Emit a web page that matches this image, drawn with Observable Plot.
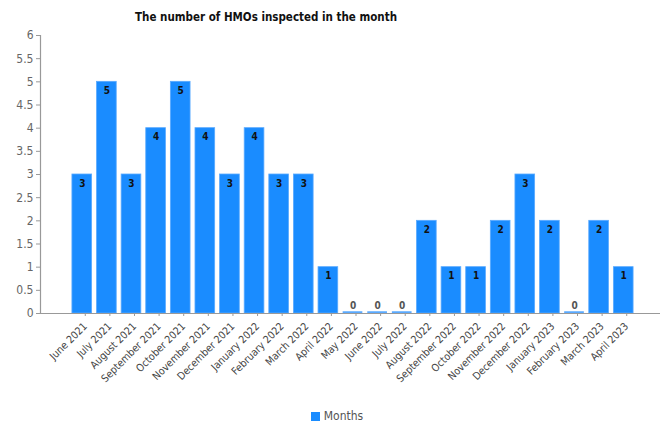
<!DOCTYPE html>
<html>
<head>
<meta charset="utf-8">
<script src="https://cdn.jsdelivr.net/npm/d3@7"></script>
<script src="https://cdn.jsdelivr.net/npm/@observablehq/plot@0.6"></script>
<style>
  body { margin: 0; background: #fff; font-family: "DejaVu Sans Condensed", "DejaVu Sans", sans-serif; }
  #wrap { width: 660px; height: 430px; position: relative; overflow: hidden; }
  #title { height: 28px; line-height: 34px; font-size: 11.5px; font-weight: bold; color: #111; width: 532px; text-align: center; }
  #legend { position: absolute; top: 409px; left: 0; width: 674px; text-align: center; font-size: 12px; color: #555; }
  #legend .sw { display: inline-block; width: 9px; height: 9px; background: #1a8cff; vertical-align: -1px; margin-right: 4px; }
</style>
</head>
<body>
<div id="wrap">
  <div id="title">The number of HMOs inspected in the month</div>
  <div id="chart"></div>
  <div id="legend"><span class="sw"></span>Months</div>
</div>
<script>
const months = ["June 2021","July 2021","August 2021","September 2021","October 2021","November 2021","December 2021","January 2022","February 2022","March 2022","April 2022","May 2022","June 2022","July 2022","August 2022","September 2022","October 2022","November 2022","December 2022","January 2023","February 2023","March 2023","April 2023"];
const counts = [3,5,3,4,5,4,3,4,3,3,1,0,0,0,2,1,1,2,3,2,0,2,1];
const yTicks = [0,0.5,1,1.5,2,2.5,3,3.5,4,4.5,5,5.5,6];

const data = months.map((m, i) => ({month: m, value: counts[i]}));
const blue = "#1a8cff";

// vertical y-axis line drawn from the plot's own scale/dimensions
const yAxisLine = (index, scales, values, dim) => {
  const [y0, y1] = [scales.y(0), scales.y(6)];
  return d3.create("svg:line")
    .attr("x1", dim.marginLeft + 0.5).attr("x2", dim.marginLeft + 0.5)
    .attr("y1", y0).attr("y2", y1)
    .attr("stroke", "#999").attr("stroke-width", 1.2)
    .node();
};

const chart = Plot.plot({
  width: 660,
  height: 372,
  marginTop: 7,
  marginBottom: 87,
  marginLeft: 40,
  marginRight: 0,
  style: {fontFamily: "DejaVu Sans Condensed, DejaVu Sans, sans-serif", background: "#fff"},
  x: {domain: months, range: [67, 638], padding: 0.2, round: false, label: null},
  y: {domain: [0, 6], label: null},
  marks: [
    Plot.barY(data.filter(d => d.value > 0), {x: "month", y: "value", fill: blue, stroke: "#5aaaff", strokeWidth: 0.8}),
    Plot.tickY(data.filter(d => d.value === 0), {x: "month", y: "value", stroke: "#5aaaff", strokeWidth: 2.5, dy: -1}),
    Plot.text(data.filter(d => d.value > 0), {x: "month", y: "value", text: d => String(d.value), dy: 9, fill: "#111", fontWeight: "bold", fontSize: 10}),
    Plot.text(data.filter(d => d.value === 0), {x: "month", y: "value", text: d => String(d.value), dy: -8, fill: "#555", fontWeight: "bold", fontSize: 10}),
    Plot.axisY({ticks: yTicks, tickFormat: d => String(d), tickSize: 4, fill: "#666", stroke: "#999", fontSize: 12, tickPadding: 3}),
    yAxisLine,
    Plot.axisX({tickRotate: -45, tickSize: 3, stroke: "#999", fill: "#444", fontSize: 10.5, tickPadding: 8, dx: 3}),
    Plot.ruleY([0], {stroke: "#999", strokeWidth: 1.2})
  ]
});
document.getElementById("chart").appendChild(chart);
</script>
</body>
</html>
